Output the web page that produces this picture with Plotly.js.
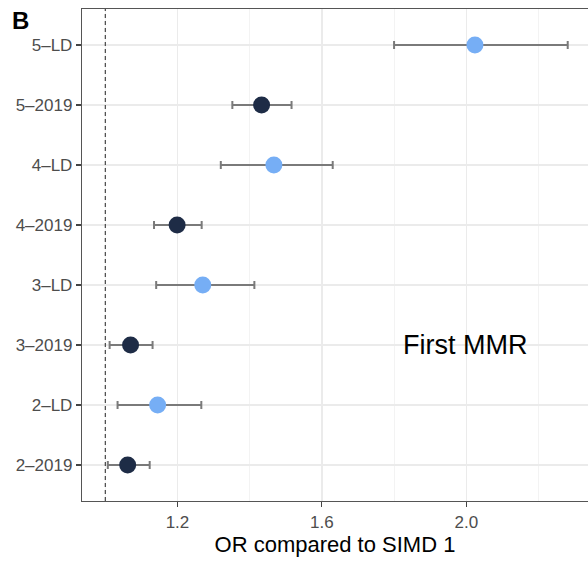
<!DOCTYPE html>
<html>
<head>
<meta charset="utf-8">
<script src="https://cdn.plot.ly/plotly-3.0.1.min.js"></script>
<style>html,body{margin:0;padding:0;background:#fff;}#chart{width:588px;height:561px;}</style>
</head>
<body>
<div id="chart"></div>
<script>
// Categories, bottom to top
const categories = ["2–2019","2–LD","3–2019","3–LD","4–2019","4–LD","5–2019","5–LD"];

// 2019 series
const cat2019 = ["2–2019","3–2019","4–2019","5–2019"];
const or2019 = [1.062, 1.070, 1.199, 1.433];
const lo2019 = [1.007, 1.012, 1.135, 1.352];
const hi2019 = [1.123, 1.131, 1.267, 1.516];

// LD series
const catLD = ["2–LD","3–LD","4–LD","5–LD"];
const orLD = [1.145, 1.270, 1.467, 2.024];
const loLD = [1.034, 1.141, 1.320, 1.800];
const hiLD = [1.266, 1.413, 1.630, 2.281];

const refValue = 1.0;
const xTicks = [1.2, 1.6, 2.0];

function trace(cats, ors, los, his, color) {
  return {
    type: "scatter", mode: "markers",
    x: ors, y: cats,
    marker: {size: 17, color: color},
    error_x: {
      type: "data", symmetric: false,
      array: ors.map((v, i) => his[i] - v),
      arrayminus: ors.map((v, i) => v - los[i]),
      color: "#7a7a7a", thickness: 2, width: 4
    },
    hoverinfo: "skip", showlegend: false
  };
}

const data = [
  trace(catLD, orLD, loLD, hiLD, "#76aef5"),
  trace(cat2019, or2019, lo2019, hi2019, "#1e2c46")
];

const font = "Liberation Sans, Arial, Helvetica, sans-serif";

const layout = {
  width: 588, height: 561,
  margin: {l: 82, r: 0, t: 9, b: 60},
  paper_bgcolor: "#fff", plot_bgcolor: "#fff",
  font: {family: font},
  xaxis: {
    range: [0.9355, 2.3372],
    tickvals: xTicks, ticktext: xTicks.map(v => v.toFixed(1)),
    ticks: "outside", ticklen: 5, tickwidth: 1.2, tickcolor: "#444",
    tickfont: {size: 17, color: "#4d4d4d", family: font},
    showgrid: true, gridcolor: "#ebebeb", gridwidth: 1.5,
    minor: {tickvals: [1.0, 1.4, 1.8, 2.2], showgrid: true, gridcolor: "#f3f3f3", gridwidth: 1, ticks: ""},
    showline: true, linecolor: "#555", linewidth: 1.2, mirror: true,
    zeroline: false,
    title: {text: "OR compared to SIMD 1", font: {size: 22, color: "#000", family: font}, standoff: 5}
  },
  yaxis: {
    type: "category", categoryorder: "array", categoryarray: categories,
    range: [-0.6, 7.6],
    ticks: "outside", ticklen: 5, tickwidth: 1.2, tickcolor: "#444",
    tickfont: {size: 17, color: "#4d4d4d", family: font},
    showgrid: true, gridcolor: "#ebebeb", gridwidth: 1.5,
    showline: true, linecolor: "#555", linewidth: 1.2, mirror: false,
    zeroline: false
  },
  shapes: [{
    type: "line", xref: "x", yref: "paper", x0: refValue, x1: refValue, y0: 0, y1: 1,
    line: {color: "#222", width: 1, dash: "4px,3px"}
  }],
  annotations: [
    {text: "First MMR", xref: "x", yref: "y", x: 1.997, y: "3–2019", showarrow: false,
     font: {size: 27, color: "#000", family: font}, xanchor: "center", yanchor: "middle"},
    {text: "<b>B</b>", xref: "paper", yref: "paper", x: -0.142, y: 1.0, xanchor: "left", yanchor: "middle",
     yshift: -11, showarrow: false, font: {size: 24, color: "#000", family: font}}
  ]
};

Plotly.newPlot("chart", data, layout, {displayModeBar: false, staticPlot: true});
</script>
</body>
</html>
